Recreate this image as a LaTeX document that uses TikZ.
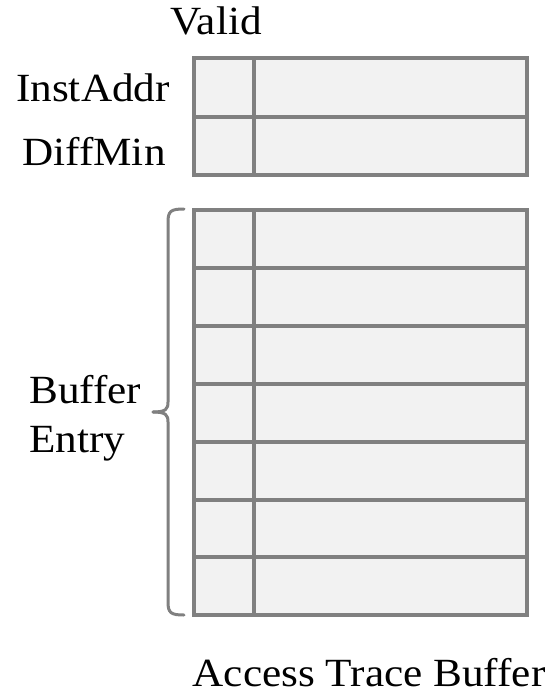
\documentclass[tikz,border=0pt]{standalone}
\usepackage{fontspec}
\setmainfont[FakeStretch=1.08]{Liberation Serif}
\begin{document}
\begin{tikzpicture}[x=1bp,y=-1bp,
  gridbox/.style={draw=black!50, line width=3.2bp, fill=black!5},
  ruleline/.style={draw=black!50, line width=3.2bp},
  bracepath/.style={draw=black!50, line width=3bp, line cap=round},
  lbl/.style={font=\fontsize{40bp}{46bp}\selectfont, inner sep=0pt}]
\useasboundingbox (0,0) rectangle (551,694);

% register table: InstAddr and DiffMin
\path[gridbox] (194,58) rectangle (527,175);
\draw[ruleline] (194,117) -- (527,117);
\draw[ruleline] (254,58) -- (254,175);

% access trace buffer with seven entries
\path[gridbox] (194,210) rectangle (527,615);
\foreach \yy in {268,326,384,442,500,557}
  \draw[ruleline] (194,\yy) -- (527,\yy);
\draw[ruleline] (254,210) -- (254,615);

% brace grouping the buffer entries
\draw[bracepath] (184,209) .. controls (171,209) and (168,211) .. (168,222)
  -- (168,402) .. controls (168,409) and (166,412) .. (153,412);
\draw[bracepath] (184,615) .. controls (171,615) and (168,613) .. (168,602)
  -- (168,422) .. controls (168,415) and (166,412) .. (153,412);

% labels
\node[lbl, anchor=base] (valid) at (216,35) {Valid};
\node[lbl, anchor=base] (inst) at (93,102) {InstAddr};
\node[lbl, anchor=base] (diff) at (94,165) {DiffMin};
\node[lbl, anchor=base west] (buf) at (29,403) {Buffer};
\node[lbl, anchor=base west] (ent) at (29,452) {Entry};
\node[lbl, anchor=base] (title) at (369,686) {Access Trace Buffer};
\end{tikzpicture}
\end{document}
